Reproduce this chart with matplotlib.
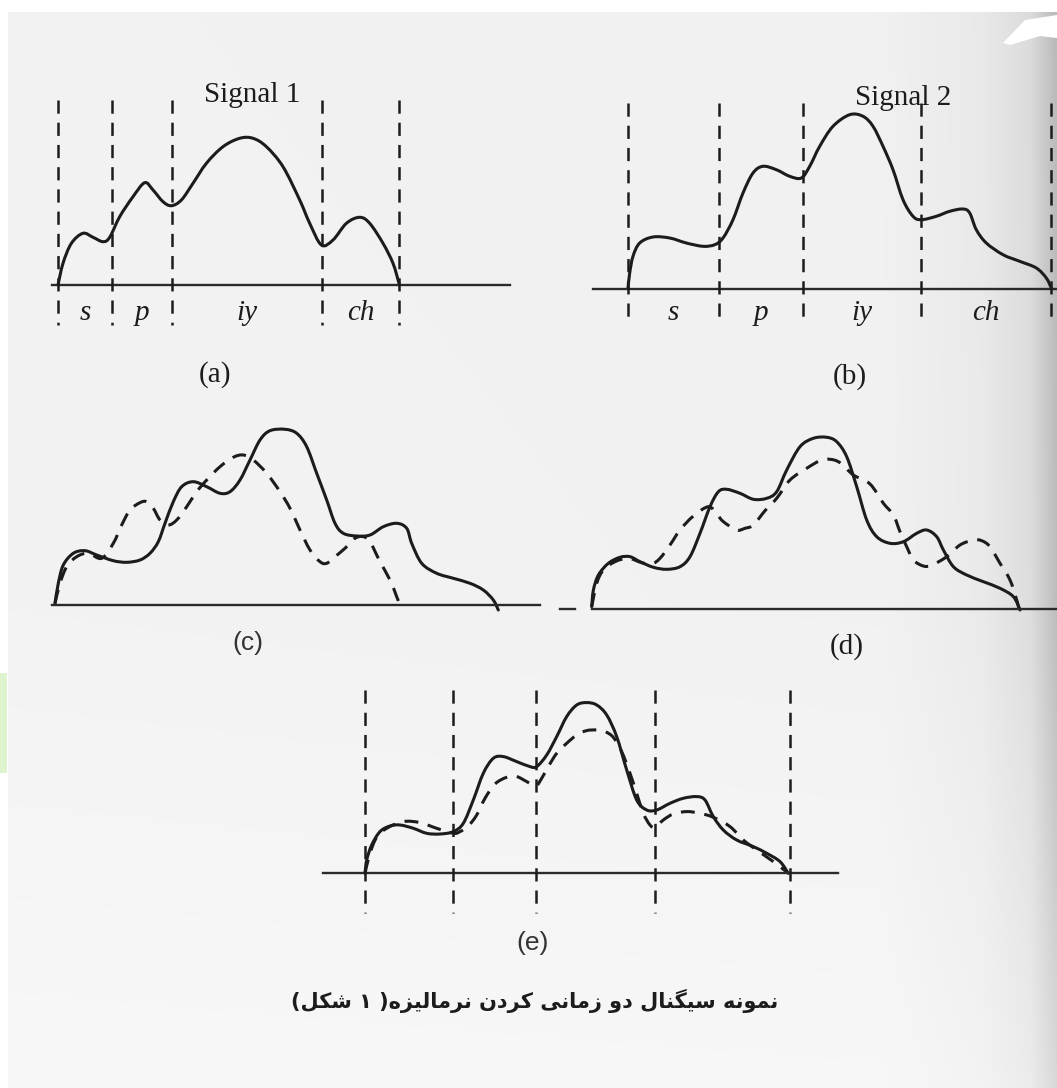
import numpy as np
import matplotlib.pyplot as plt
from matplotlib.path import Path
from matplotlib.patches import PathPatch

W, H = 1057, 1088

# signal 1 (time, amplitude) as traced for panel (a)
sig1_t = [0, 5, 13.4, 25, 35, 45, 51.7, 61.7, 75, 86.7, 95, 105, 113.4, 123.4, 135, 148.4,
          165, 181.7, 195, 208.4, 225, 241.7, 251.7, 263.4, 275, 288.4, 301.7, 311.7, 325, 335, 341]
sig1_a = [0, 21.7, 41.7, 51.7, 47.7, 43.3, 47.7, 68.3, 88.3, 102.3, 95, 83.3, 79.3, 85, 101.7, 121.7,
          138.3, 146.7, 146.7, 138.3, 118.3, 85, 61.7, 40, 45, 61.7, 67.7, 61.7, 41.7, 21.7, 1.7]
sig1_bounds = [0, 54, 114, 264, 341]

# signal 2 for panel (b)
sig2_t = [0, 1.7, 5, 11.7, 25, 41.7, 58.3, 75, 86.7, 95, 105, 115, 125, 135, 148.3, 161.7, 173.3,
          181.7, 191.7, 205, 221.7, 235, 245, 255, 265, 275, 285, 293.3, 308.3, 321.7, 335, 341.7,
          348.3, 358.3, 375, 391.7, 408.3, 418.3, 423.3]
sig2_a = [1, 16, 32.7, 46, 52, 51, 46, 42.7, 44.3, 51, 69.3, 96, 116, 122.7, 119.3, 112.7, 111,
          122.7, 142.7, 162.7, 174.3, 172.7, 162.7, 142.7, 119.3, 89.3, 72.7, 69.3, 72.7, 77.7, 80, 76,
          59.3, 46, 34.3, 27.7, 21, 11, 1]
sig2_bounds = [0, 91, 175, 293, 423]
phones = ["s", "p", "iy", "ch"]

# panel (c): both signals before alignment
c_solid_t = [0, 3.3, 8.3, 18.3, 30, 41.7, 58.3, 71.7, 85, 95, 103.3, 110, 118.3, 126.7, 138.3, 151.7,
             165, 175, 185, 195, 205, 215, 230, 241.7, 251.7, 261.7, 271.7, 280, 288.3, 301.7, 315,
             328.3, 341.7, 351.7, 356.7, 366.7, 381.7, 398.3, 415, 428.3, 438.3, 443.3]
c_solid_a = [1.7, 21.7, 40, 51.7, 54.3, 50, 44.3, 42.7, 45, 51.7, 63.3, 81.7, 103.3, 118.3, 123.3, 118.3,
             111.7, 113.3, 125, 145, 165, 174.3, 175.7, 171.7, 158.3, 131.7, 105, 81.7, 71.7, 69, 70,
             78.3, 81.7, 76.7, 61.7, 41.7, 31.7, 26.7, 21.7, 15, 5, -5]
c_dash_t = [0, 5, 11.7, 21.7, 33.3, 46.7, 58.3, 66.7, 75, 85, 91.7, 98.3, 105, 113.3, 121.7, 131.7,
            141.7, 151.7, 165, 178.3, 188.3, 198.3, 211.7, 225, 235, 245, 255, 265, 271.7, 280, 290,
            300, 308.3, 315, 325, 335, 341.7, 345]
c_dash_a = [1.7, 21.7, 38.3, 48.3, 51.7, 46.7, 61.7, 80, 95, 102.3, 103.3, 96.7, 85, 80, 85, 98.3,
            113.3, 125, 138.3, 147.7, 150, 145, 131.7, 113.3, 96.7, 75, 55, 43.3, 41.7, 48.3, 56.7,
            66.7, 68.3, 63.3, 43.3, 25, 8.3, 0]

# panel (d): linear stretch of signal 1 onto signal 2
d_solid_t = [0, 1.7, 6.7, 16.7, 28.3, 38.3, 48.3, 61.7, 75, 88.3, 98.3, 108.3, 118.3, 126.7, 135,
             148.3, 161.7, 175, 185, 195, 208.3, 221.7, 235, 245, 255, 265, 275, 285, 298.3, 311.7,
             325, 335, 345, 351.7, 361.7, 375, 391.7, 408.3, 421.7, 428.3]
d_solid_a = [2.3, 19, 34, 45.7, 51.7, 52.3, 47.3, 41.7, 39.7, 42.3, 52.3, 75.7, 102.3, 117.3, 119.7,
             115.7, 109.7, 110.7, 117.3, 139, 162.3, 170.7, 171.7, 167.3, 152.3, 122.3, 89, 72.3, 65.7,
             67.3, 75.7, 79, 72.3, 59, 42.3, 34, 27.3, 20.7, 12.3, -1]
d_dash_t = [0, 5, 11.7, 23.3, 36.7, 50, 60, 68.3, 78.3, 88.3, 101.7, 116.7, 125, 131.7, 145, 153.3,
            161.7, 173.3, 185, 198.3, 215, 228.3, 238.3, 248.3, 261.7, 278.3, 291.7, 301.7, 308.3,
            315, 321.7, 331.7, 340, 355, 368.3, 381.7, 390, 398.3, 408.3, 418.3, 425, 427.7]
d_dash_a = [2.3, 25.7, 39, 47.3, 50.7, 46.3, 45, 50.7, 64, 79, 93, 102.3, 95, 87.3, 79, 80.7,
            84, 98.3, 110.7, 129, 140.7, 148.3, 149.7, 146.3, 134, 125, 105.7, 94, 77.3,
            62.3, 49, 43, 43.7, 52.3, 64, 69, 68.3, 62.3, 45.7, 29, 9, -1]

# panel (e): segment-wise normalised alignment
e_solid_t = [0, 1.7, 6.7, 15, 25, 35, 48.3, 61.7, 75, 88.3, 98.3, 108.3, 118.3, 128.3, 138.3, 151.7,
             165, 171.7, 181.7, 191.7, 201.7, 211.7, 221.7, 231.7, 241.7, 251.7, 261.7, 271.7, 281.7,
             291.7, 305, 318.3, 331.7, 340, 348.3, 358.3, 371.7, 388.3, 401.7, 415, 423.3]
e_solid_a = [0, 13.3, 28.3, 41.7, 47.3, 48.3, 45, 40, 39.3, 41.7, 50, 73.3, 100, 115, 116.7, 111.7,
             106.7, 106.7, 118.3, 136.7, 156.7, 168.3, 170.7, 168.3, 158.3, 136.7, 103.3, 73.3, 63.3,
             63.3, 70, 75, 76.7, 73.3, 56.7, 43.3, 33.3, 26.7, 20, 11.7, 0]
e_dash_t = [0, 5, 11.7, 21.7, 38.3, 55, 71.7, 88.3, 95, 103.3, 111.7, 120, 130, 141.7, 151.7, 161.7,
            170.7, 176.7, 183.3, 191.7, 201.7, 211.7, 221.7, 231.7, 240, 248.3, 256.7, 265, 271.7,
            278.3, 285, 290, 298.3, 308.3, 321.7, 335, 348.3, 365, 378.3, 391.7, 408.3, 423.3]
e_dash_a = [0, 20, 36, 45, 51.7, 50.7, 45, 40, 41.7, 47.3, 58.3, 75, 89.3, 96, 96.7, 91.7,
            87.3, 95, 106.7, 120, 130, 138.3, 142.7, 143.3, 141.7, 136, 121.7, 100, 80,
            60, 48.3, 46, 53.3, 59.3, 61.7, 60, 56, 46.7, 33.3, 23.3, 11.7, 0]
e_bounds = [0, 88.3, 170.7, 290, 425]

caption_words = ["شکل", "۱", "نرمالیزه", "کردن", "زمانی", "دو", "سیگنال", "نمونه"]

# arabic presentation forms: isolated, final, initial, medial
FORMS = {
    "ش": "\uFEB5\uFEB6\uFEB7\uFEB8", "ک": "\uFB8E\uFB8F\uFB90\uFB91",
    "ل": "\uFEDD\uFEDE\uFEDF\uFEE0", "ن": "\uFEE5\uFEE6\uFEE7\uFEE8",
    "م": "\uFEE1\uFEE2\uFEE3\uFEE4", "ی": "\uFBFC\uFBFD\uFBFE\uFBFF",
    "ه": "\uFEE9\uFEEA\uFEEB\uFEEC", "س": "\uFEB1\uFEB2\uFEB3\uFEB4",
    "گ": "\uFB92\uFB93\uFB94\uFB95",
    "ر": "\uFEAD\uFEAE", "ا": "\uFE8D\uFE8E", "ز": "\uFEAF\uFEB0",
    "د": "\uFEA9\uFEAA", "و": "\uFEED\uFEEE",
}


def shape(word):
    # matplotlib lays glyphs out left to right, so join and reverse by hand
    out = []
    for i, ch in enumerate(word):
        if ch not in FORMS:
            out.append(ch)
            continue
        f = FORMS[ch]
        prev = word[i - 1] if i > 0 else ""
        nxt = word[i + 1] if i + 1 < len(word) else ""
        jp = prev in FORMS and len(FORMS[prev]) == 4
        jn = len(f) == 4 and nxt in FORMS
        if jp and jn:
            out.append(f[3])
        elif jn:
            out.append(f[2])
        elif jp:
            out.append(f[1])
        else:
            out.append(f[0])
    return "".join(reversed(out))


def smooth(t, a):
    # cubic bezier through the traced points (catmull-rom tangents)
    p = np.column_stack([t, a]).astype(float)
    verts = [p[0]]
    codes = [Path.MOVETO]
    for i in range(len(p) - 1):
        p0 = p[i - 1] if i > 0 else p[i]
        p3 = p[i + 2] if i + 2 < len(p) else p[i + 1]
        verts += [p[i] + (p[i + 1] - p0) / 6, p[i + 1] - (p3 - p[i]) / 6, p[i + 1]]
        codes += [Path.CURVE4] * 3
    return Path(verts, codes)


plt.rcParams["lines.scale_dashes"] = False
INK = "#1c1c1c"
SERIF = ["Liberation Serif", "DejaVu Serif"]

fig = plt.figure(figsize=(W / 100, H / 100), dpi=100)
fig.patch.set_facecolor("white")

# scanned page tone, darker toward the binding on the right
bg = fig.add_axes([0, 0, 1, 1], zorder=-10)
xs = np.arange(W)
ys = np.arange(H)
col = np.interp(xs, [0, 7, 8, 880, 980, 1030, 1046, 1057], [1, 1, 0.95, 0.945, 0.915, 0.86, 0.78, 0.72])
row = np.interp(ys, [0, 600, 1088], [1.0, 0.95, 0.55])
page = 1 - np.outer(row, 1 - col)
page[:12, :] = 1.0
page[:, :7] = 1.0
rgb = np.dstack([page, page, page])
rgb[673:773, :7] = [0.87, 0.96, 0.81]
bg.imshow(rgb, extent=(0, W, H, 0), aspect="auto", interpolation="bilinear")
bg.fill([1003, 1025, 1057, 1057, 1040, 1010], [43, 20, 15, 38, 36, 45], color="white", lw=0)
bg.set_xlim(0, W)
bg.set_ylim(H, 0)
bg.axis("off")


def panel(x0, base, box):
    l, t, r, b = box
    ax = fig.add_axes([l / W, 1 - b / H, (r - l) / W, (b - t) / H])
    ax.set_xlim(l - x0, r - x0)
    ax.set_ylim(base - b, base - t)
    ax.axis("off")
    ax.patch.set_alpha(0)
    return ax


def boundaries(ax, bounds, top, bottom):
    for b in bounds:
        ax.plot([b, b], [top, bottom], color=INK, lw=1.8, dashes=(9.5, 6.5))


def phone_labels(ax, bounds, y):
    for k, name in enumerate(phones):
        ax.text((bounds[k] + bounds[k + 1]) / 2, y, name, family=SERIF, style="italic",
                fontsize=21, ha="center", va="center", color=INK)


def curve(ax, t, a, dashed=False):
    ls = (0, (10, 7)) if dashed else "-"
    ax.add_patch(PathPatch(smooth(t, a), fill=False, edgecolor=INK, lw=2.2, linestyle=ls,
                           joinstyle="round", capstyle="butt" if dashed else "round"))


base_kw = dict(color="#2a2a2a", lw=1.7)

# (a) signal 1 with phone boundaries
ax = panel(58, 285, (30, 60, 540, 400))
ax.plot([-6, 452], [0, 0], **base_kw)
boundaries(ax, sig1_bounds, 185, -40)
curve(ax, sig1_t, sig1_a)
phone_labels(ax, sig1_bounds, -28)
ax.text(194, 190, "Signal 1", family=SERIF, fontsize=21, ha="center", va="center", color=INK)
ax.text(157, -90, "(a)", family=SERIF, fontsize=21, ha="center", va="center", color=INK)

# (b) signal 2 with phone boundaries
ax = panel(628, 289, (580, 60, 1057, 400))
ax.plot([-35, 429], [0, 0], **base_kw)
boundaries(ax, sig2_bounds, 186, -36)
curve(ax, sig2_t, sig2_a)
phone_labels(ax, sig2_bounds, -24)
ax.text(275, 191, "Signal 2", family=SERIF, fontsize=21, ha="center", va="center", color=INK)
ax.text(222, -88, "(b)", family=SERIF, fontsize=21, ha="center", va="center", color=INK)

# (c) raw overlay
ax = panel(55, 605, (30, 410, 545, 670))
ax.plot([-3, 485], [0, 0], **base_kw)
curve(ax, c_dash_t, c_dash_a, dashed=True)
curve(ax, c_solid_t, c_solid_a)
ax.text(193, -38, "(c)", family=["Liberation Sans"], fontsize=19, ha="center", va="center", color="#333333")

# (d) linear stretch
ax = panel(591.7, 609, (555, 410, 1057, 670))
ax.plot([-31.7, -16.7], [0, 0], **base_kw)
ax.plot([0, 466], [0, 0], **base_kw)
curve(ax, d_dash_t, d_dash_a, dashed=True)
curve(ax, d_solid_t, d_solid_a)
ax.text(255, -38, "(d)", family=SERIF, fontsize=21, ha="center", va="center", color=INK)

# (e) segment-wise alignment
ax = panel(365, 873.3, (310, 680, 850, 960))
ax.plot([-42, 473], [0, 0], **base_kw)
boundaries(ax, e_bounds, 183, -40)
curve(ax, e_dash_t, e_dash_a, dashed=True)
curve(ax, e_solid_t, e_solid_a)
ax.text(168, -70, "(e)", family=["Liberation Sans"], fontsize=19, ha="center", va="center", color="#333333")

caption = ("(" + shape(caption_words[0]) + " " + caption_words[1] + " )"
           + " ".join(shape(w) for w in caption_words[2:]))
fig.text(535 / W, 1 - 1001 / H, caption, family=["DejaVu Sans"], weight="bold", fontsize=15,
         ha="center", va="center", color=INK)

fig.savefig("out.png", dpi=100)
